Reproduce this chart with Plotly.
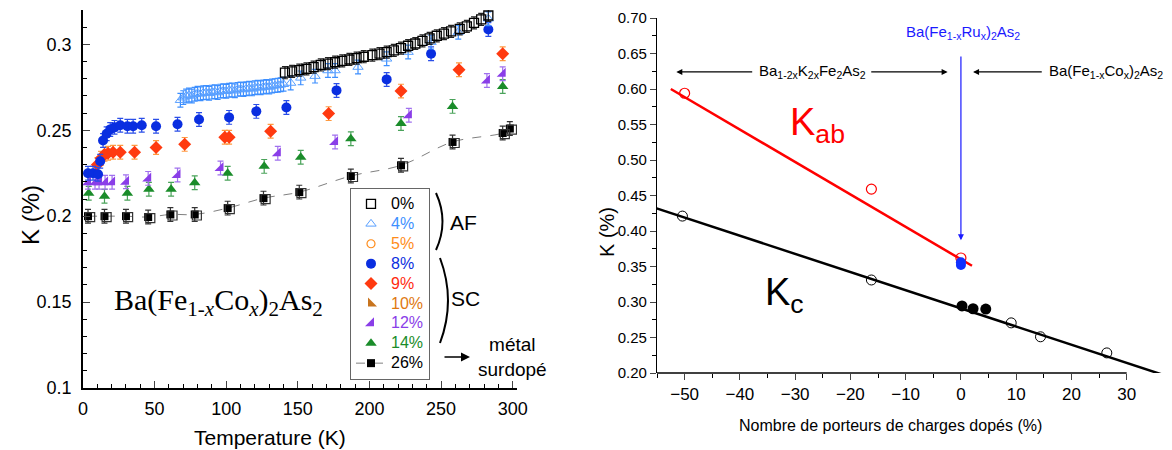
import plotly.graph_objects as go

W, H = 1172, 450
def px(x): return x / W
def py(y): return 1 - y / H

FONT = "Liberation Sans, Arial, sans-serif"
SERIF = "Liberation Serif, Times New Roman, serif"

# ---------------- Left panel data: K(%) vs Temperature (K) ----------------
T0 = [141,146,151,156,161,166,171,176,181,186,191,196,202,207,212,217,222,227,232,237,242,247,252,257,263,268,273,278,283]
K0 = [0.2835,0.2843,0.2850,0.2858,0.2868,0.2880,0.2888,0.2896,0.2904,0.2912,0.2920,0.2928,0.2937,0.2946,0.2955,0.2965,0.2978,0.2992,0.3005,0.3020,0.3035,0.3050,0.3063,0.3076,0.3090,0.3105,0.3125,0.3145,0.3168]

T4 = [68,70,72,74,76,78,80,82,84,86,88,90,92,94,96,98,100,102,104,106,108,110,112,114,116,118,120,122,124,126,128,130,132,134,136,138,140,
      145,152,162,171,176,192,212,227,243,262,283]
K4 = [0.2675,0.2690,0.2700,0.2705,0.2700,0.2710,0.2715,0.2712,0.2718,0.2720,0.2716,0.2722,0.2725,0.2720,0.2728,0.2730,0.2727,0.2733,0.2735,0.2730,0.2738,0.2740,0.2737,0.2742,0.2745,0.2741,0.2748,0.2750,0.2747,0.2752,0.2755,0.2752,0.2758,0.2760,0.2762,0.2765,0.2768,
      0.2775,0.2805,0.2815,0.2848,0.2848,0.2868,0.2916,0.2955,0.3013,0.3071,0.3149]

T8 = [3.5,7,10.5,12,14,16.5,19,22,26,31,35,41,51,66,81,102,121,142,177,212,243,283]
K8 = [0.2250,0.2250,0.2244,0.2320,0.2440,0.2480,0.2505,0.2517,0.2529,0.2523,0.2523,0.2529,0.2523,0.2535,0.2563,0.2575,0.2610,0.2633,0.2732,0.2796,0.2945,0.3087]

T9 = [10,12.6,15,17.5,21,26,36,51,71,99,102,131,171.5,222,262.5,293]
K9 = [0.2300,0.2337,0.2360,0.2366,0.2372,0.2372,0.2372,0.2400,0.2418,0.2459,0.2459,0.2494,0.2597,0.2728,0.2852,0.2945]

T12 = [3.5,8.4,11.2,15.4,20.3,30,45.5,66,96,136,176,227.5,282,293]
K12 = [0.2198,0.2198,0.2198,0.2198,0.2198,0.2200,0.2220,0.2240,0.2280,0.2366,0.2432,0.2587,0.2790,0.2829]

T14 = [4,15,31,46,61.5,78,101,126.5,152,187,222,258,293]
K14 = [0.2134,0.2116,0.2134,0.2157,0.2157,0.2195,0.2250,0.2290,0.2343,0.2451,0.2539,0.2639,0.2755]

T26 = [3.5,15,30,45.5,61,78,101,126,151,187,222,258,293,298]
K26 = [0.2000,0.2000,0.2000,0.1995,0.2010,0.2010,0.2047,0.2105,0.2140,0.2234,0.2296,0.2432,0.2484,0.2510]
T26b = [5,16.5,31.5,47,62.5,79.5,102.5,127.5,152.5,188.5,223.5,259.5,294.5,299.5]
K26b = [0.1994,0.1994,0.1994,0.1989,0.2004,0.2004,0.2041,0.2099,0.2134,0.2228,0.2290,0.2426,0.2478,0.2504]

# ---------------- Right panel data: K(%) vs doped carriers (%) ----------------
ab_x = [-50, -16.2, 0]
ab_y = [0.594, 0.459, 0.362]
ru_x = [0, 0]
ru_y = [0.352, 0.356]
c_open_x = [-50.4, -16.2, 9.1, 14.4, 26.4]
c_open_y = [0.421, 0.331, 0.2706, 0.251, 0.2283]
c_fill_x = [0.2, 2.2, 4.5]
c_fill_y = [0.2945, 0.2905, 0.2900]
ab_fit_x = [-52.5, 2.0]
ab_fit_y = [0.600, 0.351]
c_fit_x = [-55.3, 38.5]
c_fit_y = [0.4325, 0.1925]

fig = go.Figure()

def err(color, v=0.004):
    return dict(type="constant", value=v, color=color, thickness=1.2, width=3)

def lbl(txt, color):
    return f'<span style="color:{color};font-size:16px">{txt}</span>'

# draw order (bottom -> top)
fig.add_trace(go.Scatter(x=T26, y=K26, mode="lines+markers", name=lbl("26%", "#000000"), legendrank=9,
    line=dict(color="#808080", width=1, dash="dash", shape="spline"),
    marker=dict(symbol="square", size=8, color="black"), error_y=err("#333333"), xaxis="x", yaxis="y"))
fig.add_trace(go.Scatter(x=T26b, y=K26b, mode="markers", showlegend=False,
    marker=dict(symbol="square-open", size=9, color="#333333", line=dict(width=1.2)), xaxis="x", yaxis="y"))
fig.add_trace(go.Scatter(x=T14, y=K14, mode="markers", name=lbl("14%", "#1a8c2a"), legendrank=8,
    marker=dict(symbol="triangle-up", size=10, color="#1a8c2a"), error_y=err("#4aa35a"), xaxis="x", yaxis="y"))
fig.add_trace(go.Scatter(x=T12, y=K12, mode="markers", name=lbl("12%", "#8a3ee8"), legendrank=7,
    marker=dict(symbol="triangle-se", size=10, color="#8a3ee8"), error_y=err("#a070ee"), xaxis="x", yaxis="y"))
fig.add_trace(go.Scatter(x=[None], y=[None], mode="markers", name=lbl("10%", "#e07810"), legendrank=6,
    marker=dict(symbol="triangle-sw", size=10, color="#c8741e"), xaxis="x", yaxis="y"))
fig.add_trace(go.Scatter(x=T9, y=K9, mode="markers", name=lbl("9%", "#ff2a10"), legendrank=5,
    marker=dict(symbol="diamond", size=10, color="#ff3a10"), error_y=err("#ff9a40"), xaxis="x", yaxis="y"))
fig.add_trace(go.Scatter(x=T8, y=K8, mode="markers", name=lbl("8%", "#0a2ee0"), legendrank=4,
    marker=dict(symbol="circle", size=10, color="#0a2ee0"), error_y=err("#2a4ee8"), xaxis="x", yaxis="y"))
fig.add_trace(go.Scatter(x=[None], y=[None], mode="markers", name=lbl("5%", "#ff8c1a"), legendrank=3,
    marker=dict(symbol="circle-open", size=8, color="#ff8c1a", line=dict(width=1.2)), xaxis="x", yaxis="y"))
fig.add_trace(go.Scatter(x=T4, y=K4, mode="markers", name=lbl("4%", "#3d8fff"), legendrank=2,
    marker=dict(symbol="triangle-up-open", size=9, color="#5aa0ff", line=dict(width=1)), error_y=err("#3d8fff"), xaxis="x", yaxis="y"))
fig.add_trace(go.Scatter(x=T0, y=K0, mode="markers", name=lbl("0%", "#000000"), legendrank=1,
    marker=dict(symbol="square-open", size=9, color="black", line=dict(width=1.3)), error_y=err("#222222", 0.0035), xaxis="x", yaxis="y"))

# right panel traces
fig.add_trace(go.Scatter(x=c_fit_x, y=c_fit_y, mode="lines", showlegend=False,
    line=dict(color="black", width=2.5), xaxis="x2", yaxis="y2"))
fig.add_trace(go.Scatter(x=ab_fit_x, y=ab_fit_y, mode="lines", showlegend=False,
    line=dict(color="#ff0000", width=2.5), xaxis="x2", yaxis="y2"))
fig.add_trace(go.Scatter(x=ab_x, y=ab_y, mode="markers", showlegend=False,
    marker=dict(symbol="circle-open", size=10, color="#ff0000", line=dict(width=1.2)), xaxis="x2", yaxis="y2"))
fig.add_trace(go.Scatter(x=ru_x, y=ru_y, mode="markers", showlegend=False,
    marker=dict(symbol="circle", size=10, color="#1030ff"), xaxis="x2", yaxis="y2"))
fig.add_trace(go.Scatter(x=c_open_x, y=c_open_y, mode="markers", showlegend=False,
    marker=dict(symbol="circle-open", size=10, color="black", line=dict(width=1)), xaxis="x2", yaxis="y2"))
fig.add_trace(go.Scatter(x=c_fill_x, y=c_fill_y, mode="markers", showlegend=False,
    marker=dict(symbol="circle", size=11, color="black"), xaxis="x2", yaxis="y2"))

annotations = []
shapes = []

def ann(x, y, text, size, color="black", family=FONT, **kw):
    d = dict(xref="paper", yref="paper", x=px(x), y=py(y), text=text, showarrow=False,
             xanchor="center", yanchor="middle", font=dict(size=size, family=family, color=color))
    d.update(kw)
    return d

# left panel titles / text
annotations += [
    ann(270, 437, "Temperature (K)", 21),
    ann(30, 215, "K (%)", 24, textangle=-90),
    ann(218, 302, "Ba(Fe<sub>1-<i>x</i></sub>Co<sub><i>x</i></sub>)<sub>2</sub>As<sub>2</sub>", 30, family=SERIF),
    ann(463, 222, "AF", 21),
    ann(465, 298, "SC", 21),
    ann(512, 357, "métal<br>surdopé", 19),
    dict(xref="paper", yref="paper", x=px(470), y=py(357), ax=-27, ay=0,
         text="", showarrow=True, arrowhead=2, arrowsize=1.2, arrowwidth=1.5, arrowcolor="black"),
]
# brackets
def bracket(x, y0, y1, bulge):
    ym = (y0 + y1) / 2
    return dict(type="path", xref="paper", yref="paper",
                path=f"M {px(x)},{py(y0)} Q {px(x + bulge)},{py(ym)} {px(x)},{py(y1)}",
                line=dict(color="black", width=2))
shapes += [bracket(436, 193, 250, 13), bracket(440, 258, 343, 16)]

# right panel annotations
YA = 0.624
def dann(x, y, text, size, color="black"):
    return dict(xref="x2", yref="y2", x=x, y=y, text=text, showarrow=False, xanchor="center", yanchor="middle",
                font=dict(size=size, family=FONT, color=color))
def darrow(x, y, ax, ay, color="black"):
    return dict(xref="x2", yref="y2", x=x, y=y, ax=ax, ay=ay, axref="x2", ayref="y2", text="",
                showarrow=True, arrowhead=2, arrowsize=1, arrowwidth=1.2, arrowcolor=color)
annotations += [
    dann(-26.9, YA, "Ba<sub>1-2x</sub>K<sub>2x</sub>Fe<sub>2</sub>As<sub>2</sub>", 15),
    darrow(-51.5, YA, -37.5, YA),
    darrow(-2.4, YA, -16.5, YA),
    darrow(2.2, YA, 14.9, YA),
    dann(26.3, YA, "Ba(Fe<sub>1-x</sub>Co<sub>x</sub>)<sub>2</sub>As<sub>2</sub>", 15),
    dann(0.4, 0.679, "Ba(Fe<sub>1-x</sub>Ru<sub>x</sub>)<sub>2</sub>As<sub>2</sub>", 15, "#1a1aff"),
    darrow(0, 0.387, 0, 0.648, "#1a1aff"),
    dann(-26.0, 0.549, "K<sub>ab</sub>", 38, "#ff0000"),
    dann(-32.0, 0.310, "K<sub>c</sub>", 38),
    ann(890, 425, "Nombre de porteurs de charges dopés (%)", 16),
    ann(607, 232, "K (%)", 20, textangle=-90),
]
# right x axis line only up to 30
shapes.append(dict(type="line", xref="x2", yref="y2 domain", x0=-55, x1=30, y0=0, y1=0,
                   line=dict(color="black", width=1.3)))

fig.update_layout(
    width=W, height=H, margin=dict(l=0, r=0, t=0, b=0, autoexpand=False),
    plot_bgcolor="white", paper_bgcolor="white",
    font=dict(family=FONT, color="black"),
    showlegend=True, hovermode=False,
    legend=dict(x=px(350), y=py(188), xanchor="left", yanchor="top", bordercolor="#666666", borderwidth=1,
                bgcolor="white", font=dict(size=13, family=FONT), itemwidth=30, tracegroupgap=0),
    xaxis=dict(domain=[px(83), px(517)], range=[0, 303], anchor="y", automargin=False,
               tickvals=[0, 50, 100, 150, 200, 250, 300], ticks="inside", ticklen=7, tickwidth=1.3,
               showline=True, linecolor="black", linewidth=1.5, showgrid=False, zeroline=False,
               tickfont=dict(size=18, family=FONT), ticklabelstandoff=4,
               minor=dict(dtick=10, tick0=0, ticks="inside", ticklen=4, tickcolor="black", showgrid=False)),
    yaxis=dict(domain=[py(388), py(10)], range=[0.1, 0.32], anchor="x", automargin=False,
               tickvals=[0.1, 0.15, 0.2, 0.25, 0.3], ticktext=["0.1", "0.15", "0.2", "0.25", "0.3"],
               ticks="inside", ticklen=7, tickwidth=1.3,
               showline=True, linecolor="black", linewidth=1.5, showgrid=False, zeroline=False,
               tickfont=dict(size=18, family=FONT), ticklabelstandoff=6,
               minor=dict(dtick=0.01, tick0=0.1, ticks="inside", ticklen=4, tickcolor="black", showgrid=False)),
    xaxis2=dict(domain=[px(657), 1.0], range=[-55, 38.2], anchor="y2", automargin=False,
                tickvals=[-50, -40, -30, -20, -10, 0, 10, 20, 30], ticks="outside", ticklen=6, tickwidth=1,
                showline=False, showgrid=False, zeroline=False,
                tickfont=dict(size=17, family=FONT),
                minor=dict(tickvals=[-55, -45, -35, -25, -15, -5, 5, 15, 25], ticks="outside", ticklen=4,
                           tickcolor="black", showgrid=False)),
    yaxis2=dict(domain=[py(373), py(18)], range=[0.2, 0.7], anchor="x2", automargin=False,
                tickvals=[0.2, 0.25, 0.3, 0.35, 0.4, 0.45, 0.5, 0.55, 0.6, 0.65, 0.7], tickformat=".2f",
                ticks="outside", ticklen=6, tickwidth=1,
                showline=True, linecolor="black", linewidth=1.3, showgrid=False, zeroline=False,
                tickfont=dict(size=15, family=FONT),
                minor=dict(dtick=0.025, tick0=0.2, ticks="outside", ticklen=4, tickcolor="black", showgrid=False)),
    annotations=annotations, shapes=shapes,
)

fig.write_html("out.html", config={"displayModeBar": False, "staticPlot": False},
               post_script="document.body.style.margin='0px';")
